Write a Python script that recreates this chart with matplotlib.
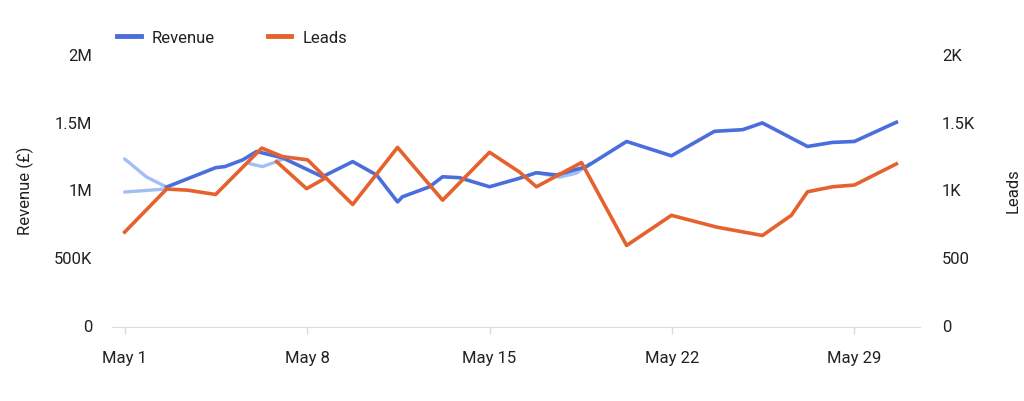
import matplotlib
matplotlib.use("Agg")
import matplotlib.pyplot as plt
from matplotlib.ticker import FixedLocator
from matplotlib.lines import Line2D

plt.rcParams['font.family'] = ['Roboto', 'DejaVu Sans']

# ---- data (x = day of May) ----
revenue_days = [2.61, 4.49, 4.84, 5.53, 6.06, 7.06, 8.59, 9.75, 10.67, 11.47, 11.66,
                12.70, 13.20, 13.85, 15.00, 16.15, 16.80, 17.57, 18.72, 20.26, 21.98,
                23.63, 24.71, 25.47, 27.20, 28.16, 29.00, 30.61]
revenue = [1.017, 1.16, 1.168, 1.218, 1.28, 1.233, 1.093, 1.205, 1.106, 0.907, 0.945,
           1.019, 1.093, 1.086, 1.019, 1.082, 1.123, 1.106, 1.168, 1.354, 1.248,
           1.429, 1.441, 1.491, 1.317, 1.347, 1.354, 1.496]  # millions

leads_days = [1.00, 2.61, 3.42, 4.49, 6.26, 7.06, 8.02, 9.75, 11.47, 13.20, 15.00,
              16.15, 16.80, 18.53, 20.26, 21.98, 23.71, 25.47, 26.58, 27.20, 28.16,
              29.00, 30.61]
leads = [684, 1002, 994, 962, 1305, 1242, 1218, 888, 1310, 920, 1274,
         1128, 1019, 1198, 585, 808, 721, 659, 808, 982, 1019, 1032, 1188]

# faint traces left over in the picture
ghost_rev = [
    ([1.0, 1.84, 2.61], [1.225, 1.091, 1.017]),
    ([1.0, 2.53], [0.98, 1.002]),
    ([5.79, 6.29, 6.83, 7.21], [1.19, 1.168, 1.205, 1.233]),
    ([16.80, 17.69, 18.34, 18.84], [1.123, 1.09, 1.12, 1.19]),
]
ghost_leads = ([6.83, 7.98, 8.67], [1205, 1005, 1080])

date_ticks = [1, 8, 15, 22, 29]
date_labels = ['May 1', 'May 8', 'May 15', 'May 22', 'May 29']
rev_ticks = [0, 0.5, 1.0, 1.5, 2.0]
rev_labels = ['0', '500K', '1M', '1.5M', '2M']
lead_ticks = [0, 500, 1000, 1500, 2000]
lead_labels = ['0', '500', '1K', '1.5K', '2K']

BLUE = '#4A6FDD'
LIGHT_BLUE = '#A2BFF3'
ORANGE = '#E5622E'
TEXT = '#202124'
FS = 12

fig = plt.figure(figsize=(10.24, 4.02), dpi=100)
ax = fig.add_axes([0.109, 0.19, 0.789, 0.673])
ax2 = ax.twinx()

for xs, ys in ghost_rev:
    ax.plot(xs, ys, color=LIGHT_BLUE, lw=2.4, solid_capstyle='round', zorder=1)
ax.plot(revenue_days, revenue, color=BLUE, lw=2.6, solid_joinstyle='round', zorder=2)
ax2.plot(ghost_leads[0], ghost_leads[1], color=ORANGE, lw=2.6, zorder=2)
ax2.plot(leads_days, leads, color=ORANGE, lw=2.6, solid_joinstyle='round', zorder=3)

ax.set_xlim(0.5, 31.5)
ax.set_ylim(0, 2.0)
ax2.set_ylim(0, 2000)

ax.xaxis.set_major_locator(FixedLocator(date_ticks))
ax.set_xticklabels(date_labels)
ax.yaxis.set_major_locator(FixedLocator(rev_ticks))
ax.set_yticklabels(rev_labels)
ax2.yaxis.set_major_locator(FixedLocator(lead_ticks))
ax2.set_yticklabels(lead_labels)

for a in (ax, ax2):
    for s in a.spines.values():
        s.set_visible(False)
ax.spines['bottom'].set_visible(True)
ax.spines['bottom'].set_color('#DADCE0')
ax.spines['bottom'].set_position(('outward', 2))

ax.tick_params(axis='x', colors='#DADCE0', length=5, width=1, pad=11, labelsize=FS,
               labelcolor=TEXT)
ax.tick_params(axis='y', length=0, pad=14, labelsize=FS, labelcolor=TEXT)
ax2.tick_params(axis='y', length=0, pad=16, labelsize=FS, labelcolor=TEXT)

ax.set_ylabel('Revenue (£)', fontsize=FS, color=TEXT, labelpad=14)
ax2.set_ylabel('Leads', fontsize=FS, color=TEXT, rotation=90, labelpad=22)

handles = [Line2D([], [], color=BLUE, lw=3.5), Line2D([], [], color=ORANGE, lw=3.5)]
fig.legend(handles, ['Revenue', 'Leads'], loc='center left',
           bbox_to_anchor=(0.100, 0.905), ncol=2, frameon=False, fontsize=FS,
           handlelength=1.4, handletextpad=0.65, columnspacing=3.2, labelcolor=TEXT)

fig.savefig('out.png', dpi=100)
